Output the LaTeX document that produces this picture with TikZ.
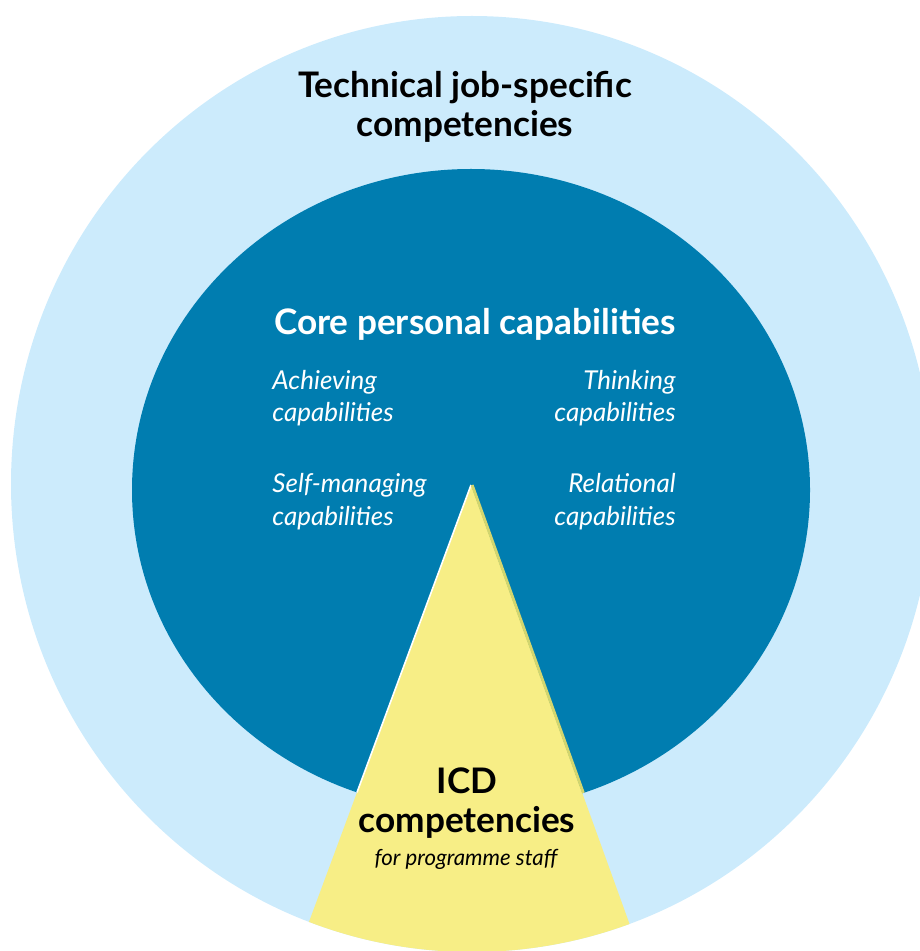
\documentclass[tikz,border=0pt]{standalone}
\usepackage{fontspec}
\setmainfont{Lato}
\definecolor{outerblue}{HTML}{CCEBFC}
\definecolor{coreblue}{HTML}{007DB0}
\definecolor{icdyellow}{HTML}{F7EE86}
\definecolor{icdshade}{HTML}{D3D66E}
\tikzset{
  ringtitle/.style={font=\bfseries\fontsize{17.6}{19.5}\selectfont, text=black, align=center, inner sep=0pt},
  coretitle/.style={font=\bfseries\fontsize{17.6}{18}\selectfont, text=white, inner sep=0pt},
  caplabel/.style={font=\itshape\fontsize{13}{16.5}\selectfont, text=white, inner sep=0pt},
  subnote/.style={font=\itshape\fontsize{11.1}{13}\selectfont, text=black, inner sep=0pt},
}
\begin{document}
\begin{tikzpicture}[x=0.5pt,y=-0.5pt]
\useasboundingbox (0,0) rectangle (919,951);
% outer ring: technical competencies
\fill[outerblue] (472,484) ellipse [x radius=461, y radius=468];
% core circle
\fill[coreblue] (471,490) ellipse [x radius=339, y radius=321];
% ICD wedge, cut by the outer ring
\coordinate (apex) at (471,485);
\coordinate (baseL) at (280,1000);
\coordinate (baseR) at (657,1000);
\begin{scope}
  \clip (472,484) ellipse [x radius=461, y radius=468];
  \fill[icdyellow] (apex) -- (baseR) -- (baseL) -- cycle;
\end{scope}
% edge highlights of the wedge inside the core circle
\begin{scope}
  \clip (471,490) ellipse [x radius=339, y radius=321];
  \draw[white, line width=0.8pt] (apex) -- (baseL);
  \draw[icdshade, line width=1.4pt] ([xshift=0.6pt]apex) -- ([xshift=0.6pt]baseR);
\end{scope}
% texts (the base anchor of a two-line node sits on its last line)
\node[ringtitle, anchor=base] (tech) at (465,137) {Technical job-specific\\competencies};
\node[coretitle, anchor=base] (core) at (475,335) {Core personal capabilities};
\node[caplabel, anchor=base west, align=left] (achieve) at (272,422) {Achieving\\capabilities};
\node[caplabel, anchor=base east, align=right] (think) at (676,422) {Thinking\\capabilities};
\node[caplabel, anchor=base west, align=left] (selfman) at (272,525) {Self-managing\\capabilities};
\node[caplabel, anchor=base east, align=right] (relate) at (676,525) {Relational\\capabilities};
\node[ringtitle, anchor=base] (icd) at (467,832) {ICD\\competencies};
\node[subnote, anchor=base] (staff) at (466,865) {for programme staff};
\end{tikzpicture}
\end{document}
